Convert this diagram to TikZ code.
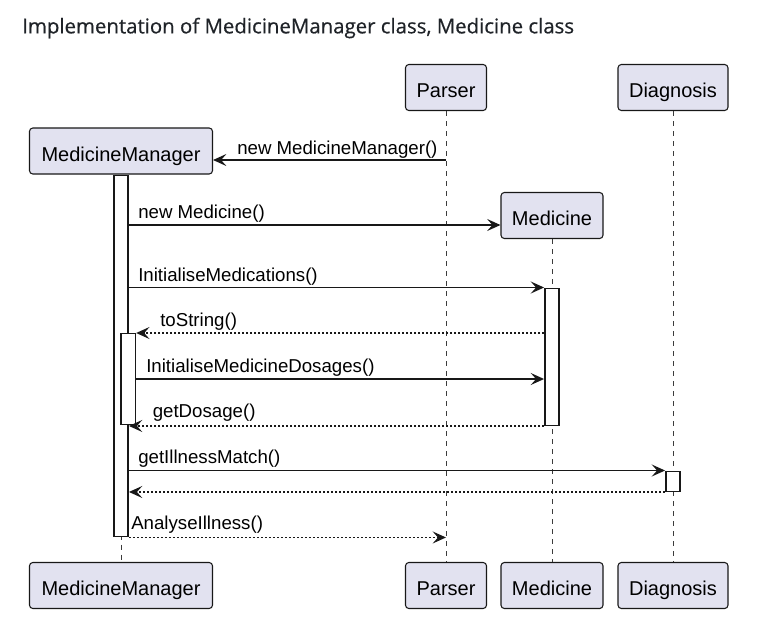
\documentclass[tikz,border=0pt]{standalone}
\usepackage{fontspec}
\setmainfont{Liberation Sans}
\newfontfamily\titlefont[FakeBold=0.5]{Open Sans}
\usetikzlibrary{arrows.meta}
\definecolor{partfill}{RGB}{226,226,240}
\definecolor{inkline}{RGB}{24,24,24}
\definecolor{titleink}{RGB}{31,35,40}

\begin{document}
\begin{tikzpicture}[x=0.75pt,y=0.75pt,yscale=-1,xscale=1,
  participant/.style={draw=inkline, fill=partfill, rounded corners=2.5pt, line width=0.8pt, minimum height=34.5pt, inner sep=0pt, text height=18pt, text depth=3pt, font=\fontsize{15}{18}\selectfont},
  lifeline/.style={draw=inkline!85, line width=0.6pt, dash pattern=on 3.75pt off 3.75pt},
  actbar/.style={draw=inkline, fill=white, line width=1.1pt, minimum width=10.8pt, inner sep=0pt, anchor=north},
  call/.style={draw=inkline, line width=1.1pt, -{Stealth[length=10pt,width=9pt,inset=4pt]}},
  reply/.style={call, line width=0.9pt, dash pattern=on 1.5pt off 1.5pt},
  msglabel/.style={anchor=base west, inner sep=0pt, font=\fontsize{14}{17}\selectfont}]
\useasboundingbox (0,0) rectangle (774,633);

% Text Node
\node [anchor=west, inner sep=0pt, text=titleink, font=\titlefont\fontsize{15.3}{18}\selectfont] (title) at (22,28) {Implementation of MedicineManager class, Medicine class};

%Shape: participants, top row
\node [participant, minimum width=137.25pt] (mmTop) at (121,151) {MedicineManager};
\node [participant, minimum width=60.75pt] (parserTop) at (446,87.5) {Parser};
\node [participant, minimum width=76.5pt] (medTop) at (552,215.5) {Medicine};
\node [participant, minimum width=82.5pt] (diagTop) at (673,87.5) {Diagnosis};
%Shape: participants, bottom row
\node [participant, minimum width=137.25pt] (mmBot) at (121,585.5) {MedicineManager};
\node [participant, minimum width=60.75pt] (parserBot) at (446,585.5) {Parser};
\node [participant, minimum width=76.5pt] (medBot) at (552,585.5) {Medicine};
\node [participant, minimum width=82.5pt] (diagBot) at (673,585.5) {Diagnosis};

%Straight Lines: lifelines
\draw [lifeline] (mmTop.south) -- (mmBot.north);
\draw [lifeline] (parserTop.south) -- (parserBot.north);
\draw [lifeline] (medTop.south) -- (medBot.north);
\draw [lifeline] (diagTop.south) -- (diagBot.north);

%Shape: activation bars
\node [actbar, minimum height=270.75pt] (mmAct) at (121,175) {};
\node [actbar, minimum height=68.25pt] (nestAct) at (128.25,333) {};
\node [actbar, minimum height=102.75pt] (medAct) at (552,287.5) {};
\node [actbar, minimum height=15pt] (diagAct) at (673,470.5) {};

%Straight Lines: messages
\draw [call] (parserTop.south |- 0,160) -- (mmTop.east |- 0,160);
\draw [call] (mmAct.east |- 0,225) -- (medTop.west |- 0,225);
\draw [call] (mmAct.east |- medAct.north) -- (medAct.north west);
\draw [reply] (medAct.west |- nestAct.north) -- (nestAct.north east);
\draw [call] (nestAct.east |- 0,379) -- (medAct.west |- 0,379);
\draw [reply] (medAct.south west) -- (mmAct.east |- medAct.south);
\draw [call] (mmAct.east |- diagAct.north) -- (diagAct.north west);
\draw [reply] (diagAct.south west) -- (mmAct.east |- diagAct.south);
\draw [reply] (mmAct.south east) -- (parserTop.south |- mmAct.south);

% Text Node
\node [msglabel] (lblNewMM) at (237,154.5) {new MedicineManager()};
\node [msglabel] (lblNewMed) at (138,218.5) {new Medicine()};
\node [msglabel] (lblInitMed) at (138,281) {InitialiseMedications()};
\node [msglabel] (lblToStr) at (160,326.5) {toString()};
\node [msglabel] (lblDosages) at (146,372) {InitialiseMedicineDosages()};
\node [msglabel] (lblGetDos) at (152.5,417) {getDosage()};
\node [msglabel] (lblMatch) at (138,463.5) {getIllnessMatch()};
\node [msglabel] (lblAnalyse) at (131,529) {AnalyseIllness()};

\end{tikzpicture}
\end{document}
